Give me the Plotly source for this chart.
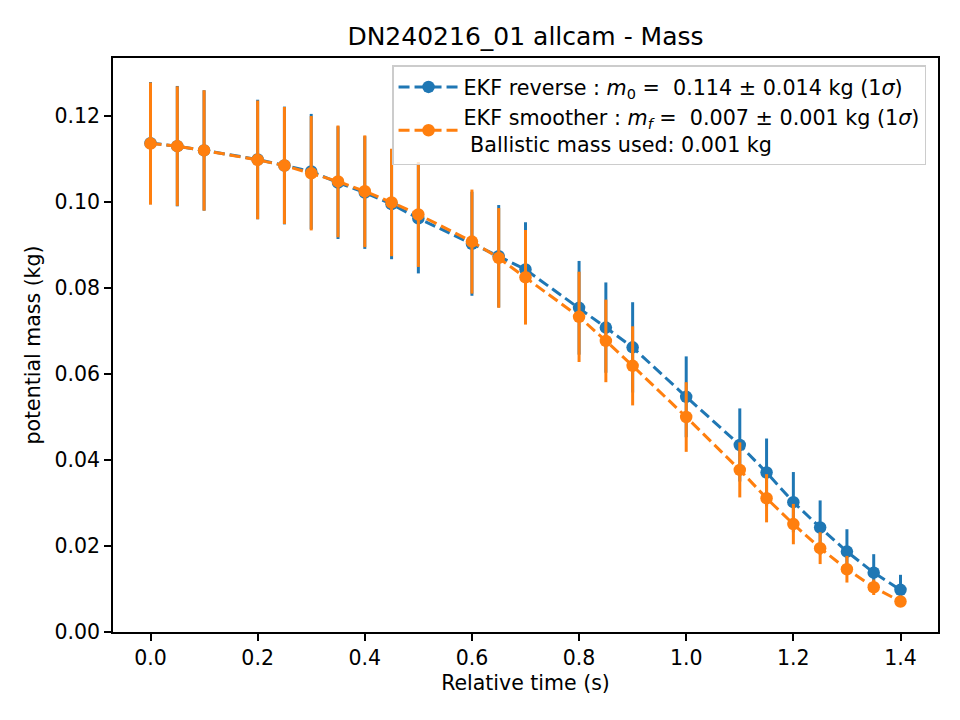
import plotly.graph_objects as go

time = [0.0, 0.05, 0.1, 0.2, 0.25, 0.3, 0.35, 0.4, 0.45, 0.5, 0.6, 0.65, 0.7,
        0.8, 0.85, 0.9, 1.0, 1.1, 1.15, 1.2, 1.25, 1.3, 1.35, 1.4]

rev_mass = [0.1137, 0.1130, 0.1120, 0.1099, 0.1085, 0.1071, 0.1045, 0.1022, 0.0995, 0.0962,
            0.0903, 0.0874, 0.0843, 0.0754, 0.0708, 0.0662, 0.0547, 0.0435, 0.0371, 0.0302,
            0.0243, 0.0187, 0.0138, 0.0098]
rev_err = [0.0142, 0.0140, 0.0140, 0.0139, 0.0137, 0.0134, 0.0131, 0.0131, 0.0128, 0.0128,
           0.0121, 0.0119, 0.0110, 0.0109, 0.0105, 0.0105, 0.0094, 0.0085, 0.0079, 0.0070,
           0.0063, 0.0052, 0.0043, 0.0035]

smo_mass = [0.1136, 0.1130, 0.1120, 0.1098, 0.1085, 0.1067, 0.1048, 0.1025, 0.0999, 0.0971,
            0.0908, 0.0870, 0.0825, 0.0733, 0.0677, 0.0619, 0.0500, 0.0377, 0.0311, 0.0251,
            0.0195, 0.0146, 0.0104, 0.0071]
smo_err = [0.0142, 0.0139, 0.0140, 0.0138, 0.0136, 0.0133, 0.0130, 0.0130, 0.0125, 0.0122,
           0.0121, 0.0116, 0.0110, 0.0105, 0.0096, 0.0092, 0.0081, 0.0064, 0.0056, 0.0047,
           0.0037, 0.0031, 0.0018, 0.0010]

x_ticks = [0.0, 0.2, 0.4, 0.6, 0.8, 1.0, 1.2, 1.4]
y_ticks = [0.00, 0.02, 0.04, 0.06, 0.08, 0.10, 0.12]

label_rev = "EKF reverse : <i>m</i><sub>0</sub> =  0.114 ± 0.014 kg (1<i>σ</i>)"
label_smo = ("EKF smoother : <i>m<sub>f</sub></i> =  0.007 ± 0.001 kg (1<i>σ</i>)"
             "<br> Ballistic mass used: 0.001 kg")

BLUE = "#1f77b4"
ORANGE = "#ff7f0e"
FONT = "DejaVu Sans"

fig = go.Figure()
for y, e, c, name in [(rev_mass, rev_err, BLUE, label_rev), (smo_mass, smo_err, ORANGE, label_smo)]:
    fig.add_trace(go.Scatter(
        x=time, y=y, mode="lines+markers", name=name,
        line=dict(color=c, width=3, dash="11px,5px"),
        marker=dict(color=c, size=12.5),
        error_y=dict(type="data", array=e, visible=True, color=c, thickness=3, width=0),
    ))

fig.update_layout(
    width=960, height=720,
    margin=dict(l=113, r=22, t=58, b=88),
    paper_bgcolor="white", plot_bgcolor="white",
    font=dict(family=FONT, size=20, color="black"),
    title=dict(text="DN240216_01 allcam - Mass", x=0.5474, xanchor="center",
               y=1 - 36 / 720, yanchor="middle", font=dict(size=25, family=FONT)),
    showlegend=True,
    legend=dict(x=0.9855, xanchor="right", y=0.987, yanchor="top",
                bgcolor="rgba(255,255,255,0.8)", bordercolor="#cccccc", borderwidth=1.5,
                font=dict(size=20.7, family=FONT), tracegroupgap=2, itemwidth=60),
)
fig.update_xaxes(
    range=[-0.07, 1.47], tickvals=x_ticks, ticktext=[f"{v:.1f}" for v in x_ticks],
    showline=True, linecolor="black", linewidth=1.6, mirror=True,
    ticks="outside", ticklen=7, tickwidth=1.6, tickcolor="black", showgrid=False, zeroline=False,
    title=dict(text="Relative time (s)", font=dict(size=20.5), standoff=6),
    tickfont=dict(size=20.5),
)
fig.update_yaxes(
    range=[0, 0.1335], tickvals=y_ticks, ticktext=[f"{v:.2f}" for v in y_ticks],
    showline=True, linecolor="black", linewidth=1.6, mirror=True,
    ticks="outside", ticklen=7, tickwidth=1.6, tickcolor="black", showgrid=False, zeroline=False,
    title=dict(text="potential mass (kg)", font=dict(size=20.5), standoff=8),
    tickfont=dict(size=20.5),
)

fig.write_html("out.html")
